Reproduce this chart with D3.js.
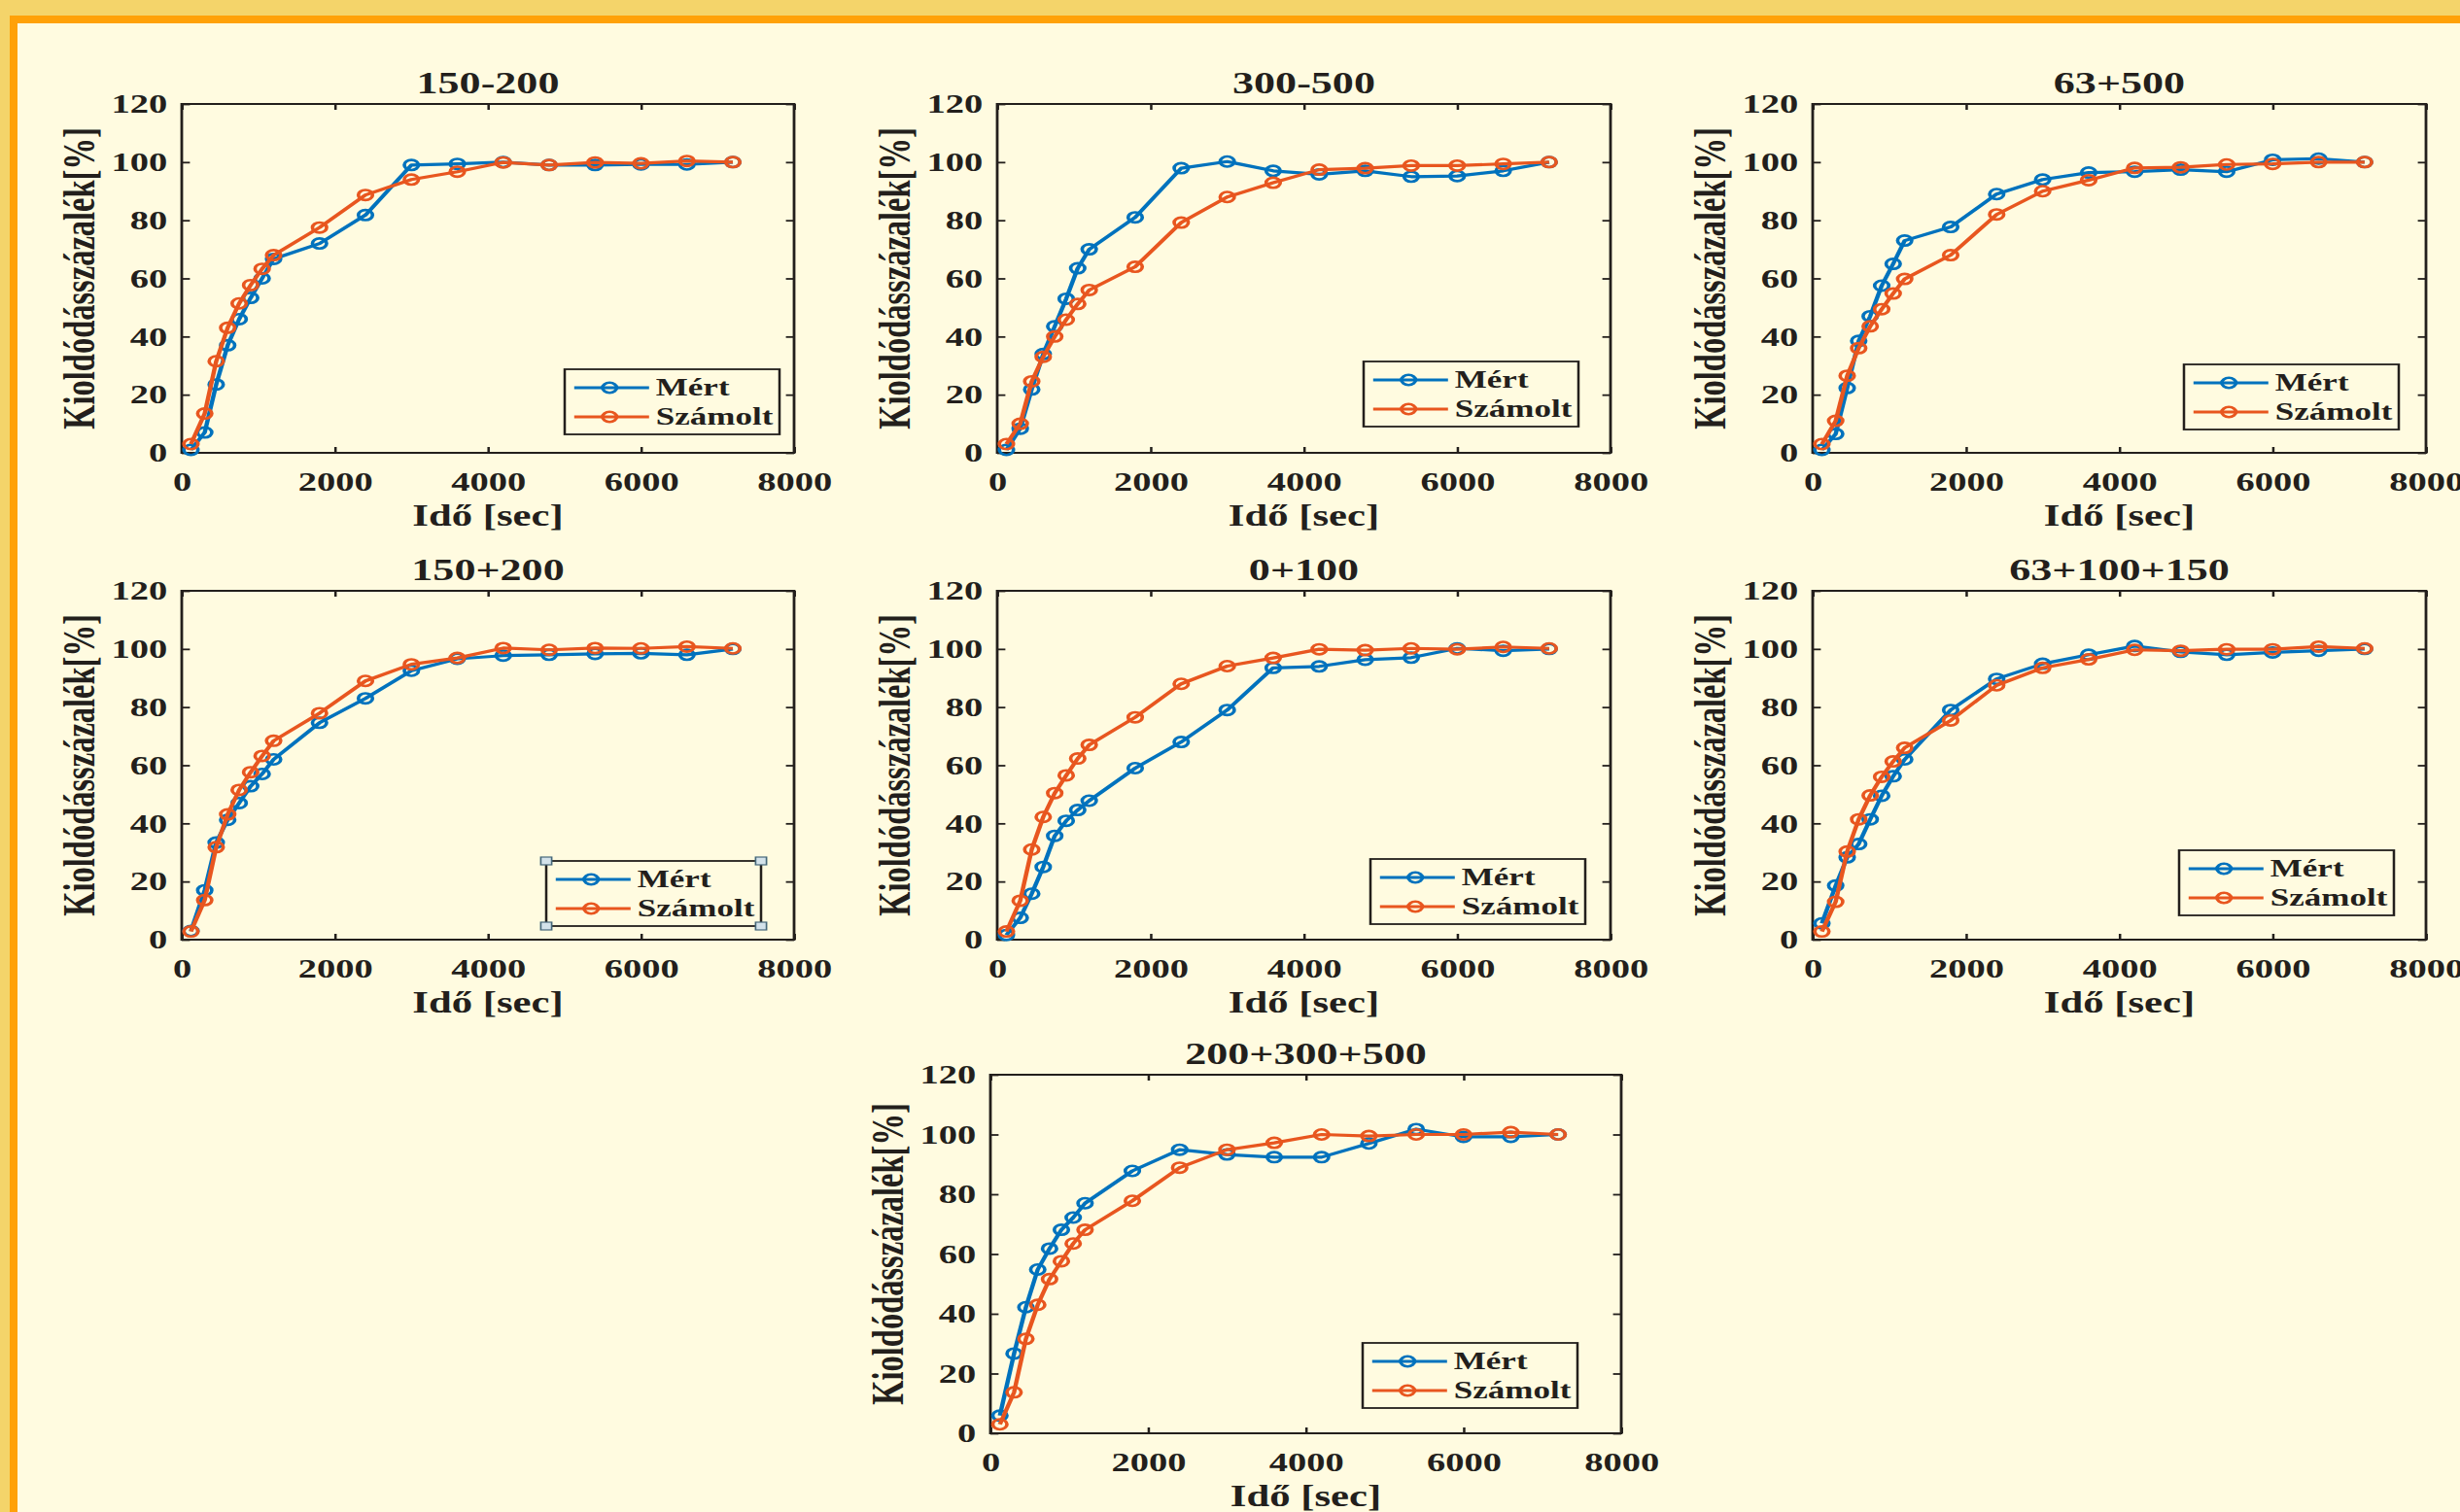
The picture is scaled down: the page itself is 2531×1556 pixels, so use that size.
<!DOCTYPE html>
<html>
<head>
<meta charset="utf-8">
<script src="https://cdn.jsdelivr.net/npm/d3@7"></script>
<style>
html,body{margin:0;padding:0;background:#FFFBE0;overflow:hidden}
svg{display:block}
</style>
</head>
<body>
<svg id="chart"></svg>
<script>
// ---------------- DATA ----------------
const timeSec = [120,300,450,600,750,900,1050,1200,1800,2400,3000,3600,4200,4800,5400,6000,6600,7200];
const panelTitles = ["150-200","300-500","63+500","150+200","0+100","63+100+150","200+300+500"];
const seriesNames = ["Mért","Számolt"];
const xTicks = [0,2000,4000,6000,8000];
const yTicks = [0,20,40,60,80,100,120];
const xLabel = "Idő [sec]";
const yLabel = "Kioldódásszázalék[%]";

const mert_150_200    = [1,7,23.5,37,46,53.3,60,66.7,72,81.8,99,99.4,100,99,99,99.2,99.2,100];
const szamolt_150_200 = [3,13.5,31.5,43,51.4,57.7,63.3,68,77.5,88.7,94,96.7,99.9,99,99.9,99.6,100.4,100];

const mert_300_500    = [1,8.3,21.8,34,43.5,53,63.5,70,81,97.9,100.2,97,95.8,97,95,95.2,97,100];
const szamolt_300_500 = [3,10,24.6,33,40,45.8,51.2,56,64,79.2,88,92.9,97.4,97.9,98.8,98.8,99.4,100];

const mert_63_500     = [1,6.5,22.3,38.5,47,57.5,65,73,77.7,89,94,96.4,96.7,97.4,96.7,100.8,101.2,100];
const szamolt_63_500  = [3,11,26.5,36,43.5,49.4,54.8,59.8,68,82,90,93.8,98,98.2,99.2,99.4,100,100];

const mert_150p200    = [3,17,33.4,41.2,47,52.8,57,62,74.6,83,92.5,96.6,97.7,98,98.3,98.5,98,100];
const szamolt_150p200 = [2.8,13.6,31.8,43.1,51.5,57.6,63.2,68.4,77.9,89,94.7,96.9,100.3,99.7,100.3,100.2,100.8,100.2];

const mert_0_100      = [1.6,7.5,15.8,25,35.7,40.9,44.6,47.8,59,68,79,93.5,94,96.3,97,100.2,99.4,100];
const szamolt_0_100   = [2.8,13.4,31,42.2,50.4,56.5,62.3,67,76.5,88,94.1,96.9,99.9,99.6,100.2,99.9,100.7,100.2];

const mert_63_100_150    = [5.6,18.6,28.3,32.9,41.4,49.5,56.2,62,79,89.7,94.9,98,101,99,98,98.8,99.4,100];
const szamolt_63_100_150 = [2.8,13,30.3,41.4,49.6,56,61.3,66,75.4,87.5,93.5,96.4,99.7,99.4,99.9,99.9,100.8,100.2];

const mert_200_300_500    = [5.9,26.7,42.2,54.8,61.8,68.1,72.2,77,87.8,94.9,93.3,92.4,92.4,97,101.8,99.2,99.2,100];
const szamolt_200_300_500 = [3,13.7,31.6,43,51.6,57.6,63.5,68.1,77.8,88.9,94.9,97.2,100,99.5,100,100,100.8,100];

const panelSeries = [
  [mert_150_200, szamolt_150_200],
  [mert_300_500, szamolt_300_500],
  [mert_63_500, szamolt_63_500],
  [mert_150p200, szamolt_150p200],
  [mert_0_100, szamolt_0_100],
  [mert_63_100_150, szamolt_63_100_150],
  [mert_200_300_500, szamolt_200_300_500]
];

// ---------------- LAYOUT (page pixels) ----------------
const W = 2531, H = 1556;
const K = 1.4;                 // horizontal stretch of the original figure
const VBW = W / K;
const layout = [
  {x0:187,  x1:817,  y0:107,  y1:466,  lr:15, lb:19},
  {x0:1026, x1:1657, y0:107,  y1:466,  lr:33, lb:27},
  {x0:1865, x1:2496, y0:107,  y1:466,  lr:28, lb:24},
  {x0:187,  x1:817,  y0:608,  y1:967,  lr:34, lb:14, handles:true},
  {x0:1026, x1:1657, y0:608,  y1:967,  lr:26, lb:16},
  {x0:1865, x1:2496, y0:608,  y1:967,  lr:33, lb:25},
  {x0:1019, x1:1668, y0:1106, y1:1475, lr:45, lb:26}
];
const colors = ["#0072BD", "#E8561F"];
const ink = "#231F1C";
const bg = "#FFFBE0";
const font = "'Liberation Serif','Times New Roman',serif";
const lineW = 3.2, markR = 5.2, markW = 2.6;

const svg = d3.select("#chart")
  .attr("width", W).attr("height", H)
  .attr("viewBox", `0 0 ${VBW} ${H}`)
  .attr("preserveAspectRatio", "none");

// background and frame
svg.append("rect").attr("x",0).attr("y",0).attr("width",VBW).attr("height",H).attr("fill",bg);
svg.append("rect").attr("x",0).attr("y",0).attr("width",VBW).attr("height",16).attr("fill","#F4D46A");
svg.append("rect").attr("x",0).attr("y",0).attr("width",10/K).attr("height",H).attr("fill","#F4D46A");
svg.append("rect").attr("x",10/K).attr("y",16).attr("width",VBW).attr("height",8).attr("fill","#FFA108");
svg.append("rect").attr("x",10/K).attr("y",16).attr("width",8/K).attr("height",H).attr("fill","#FFA108");

const legW = 221 / K, legH = 67;

panelSeries.forEach((series, i) => {
  const L = layout[i];
  const w = (L.x1 - L.x0) / K, h = L.y1 - L.y0;
  const g = svg.append("g").attr("transform", `translate(${L.x0/K},${L.y0})`);
  const x = d3.scaleLinear().domain([0, 8000]).range([0, w]);
  const y = d3.scaleLinear().domain([0, 120]).range([h, 0]);

  const styleAxis = sel => {
    sel.select(".domain").remove();
    sel.selectAll(".tick line").attr("stroke", ink).attr("stroke-width", 1.8);
    sel.selectAll("text").attr("fill", ink).attr("font-family", font)
      .attr("font-weight", "bold").attr("font-size", 27.5);
  };

  g.append("g").attr("transform", `translate(0,${h})`)
    .call(d3.axisBottom(x).tickValues(xTicks).tickSizeInner(-6).tickSizeOuter(0).tickPadding(19).tickFormat(d3.format("d")))
    .call(styleAxis);
  g.append("g")
    .call(d3.axisTop(x).tickValues(xTicks).tickSizeInner(-6).tickSizeOuter(0).tickFormat(() => ""))
    .call(styleAxis);
  g.append("g")
    .call(d3.axisLeft(y).tickValues(yTicks).tickSizeInner(-6).tickSizeOuter(0).tickPadding(10.5).tickFormat(d3.format("d")))
    .call(styleAxis);
  g.append("g").attr("transform", `translate(${w},0)`)
    .call(d3.axisRight(y).tickValues(yTicks).tickSizeInner(-6).tickSizeOuter(0).tickFormat(() => ""))
    .call(styleAxis);

  g.append("rect").attr("x",0).attr("y",0).attr("width",w).attr("height",h)
    .attr("fill","none").attr("stroke",ink).attr("stroke-width",2);

  const line = d3.line().x((d, j) => x(timeSec[j])).y(d => y(d));
  series.forEach((vals, s) => {
    g.append("path").datum(vals).attr("d", line)
      .attr("fill","none").attr("stroke",colors[s]).attr("stroke-width",lineW)
      .attr("stroke-linejoin","round");
    g.append("g").selectAll("circle").data(vals).join("circle")
      .attr("cx", (d, j) => x(timeSec[j])).attr("cy", d => y(d)).attr("r", markR)
      .attr("fill","none").attr("stroke",colors[s]).attr("stroke-width",markW);
  });

  // title
  g.append("text").attr("x", w/2).attr("y", -11).attr("text-anchor","middle")
    .attr("font-family",font).attr("font-weight","bold").attr("font-size",31.5).attr("fill",ink)
    .text(panelTitles[i]);
  // x label
  g.append("text").attr("x", w/2).attr("y", h + 75).attr("text-anchor","middle")
    .attr("font-family",font).attr("font-weight","bold").attr("font-size",30.5).attr("fill",ink)
    .text(xLabel);
  // y label
  g.append("text").attr("transform", `translate(-64,${h/2}) rotate(-90)`).attr("text-anchor","middle")
    .attr("font-family",font).attr("font-weight","bold").attr("font-size",32.5).attr("fill",ink)
    .text(yLabel);

  // legend
  const lx = (L.x1 - L.lr) / K - legW - L.x0 / K;
  const ly = h - L.lb - legH;
  const lg = g.append("g").attr("transform", `translate(${lx},${ly})`);
  lg.append("rect").attr("width",legW).attr("height",legH)
    .attr("fill",bg).attr("stroke",ink).attr("stroke-width",1.8);
  const rowY = [19, 49];
  seriesNames.forEach((name, s) => {
    lg.append("line").attr("x1",7).attr("x2",62).attr("y1",rowY[s]).attr("y2",rowY[s])
      .attr("stroke",colors[s]).attr("stroke-width",lineW);
    lg.append("circle").attr("cx",33).attr("cy",rowY[s]).attr("r",markR)
      .attr("fill","none").attr("stroke",colors[s]).attr("stroke-width",markW);
    lg.append("text").attr("x",67).attr("y",rowY[s] + 8.5)
      .attr("font-family",font).attr("font-weight","bold").attr("font-size",25).attr("fill",ink)
      .text(name);
  });
  if (L.handles) {
    [[0,0],[legW,0],[0,legH],[legW,legH]].forEach(([hx,hy]) => {
      lg.append("rect").attr("x",hx-4).attr("y",hy-4).attr("width",8).attr("height",8)
        .attr("fill","#D3E2EA").attr("stroke","#46687A").attr("stroke-width",1.2);
    });
  }
});
</script>
</body>
</html>
